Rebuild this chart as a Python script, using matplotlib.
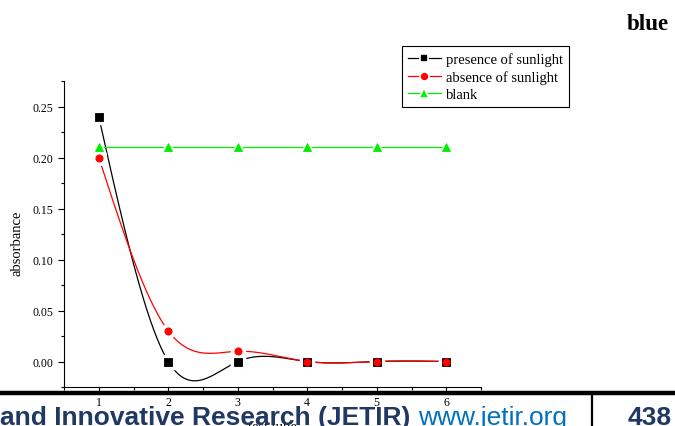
import numpy as np
import matplotlib
matplotlib.use('Agg')
import matplotlib.pyplot as plt
from matplotlib.lines import Line2D

# values
tubes = [1, 2, 3, 4, 5, 6]
presence = [0.24, 0.0, 0.0, 0.0, 0.0, 0.0]
absence = [0.20, 0.03, 0.01, 0.0, 0.0, 0.0]
blank = [0.21, 0.21, 0.21, 0.21, 0.21, 0.21]
series_labels = ['presence of sunlight', 'absence of sunlight', 'blank']

BLACK = '#000000'
RED = '#ff0000'
GREEN = '#00ee00'
NAVY = '#1f3864'
WEB_BLUE = '#0070c0'

plt.rcParams['font.family'] = ['Liberation Serif', 'DejaVu Serif']


def natural_spline(x, y, n=400):
    # natural cubic spline through the points, like Origin's spline connector
    x = np.asarray(x, float)
    y = np.asarray(y, float)
    k = len(x)
    h = np.diff(x)
    A = np.zeros((k, k))
    b = np.zeros(k)
    A[0, 0] = A[-1, -1] = 1.0
    for i in range(1, k - 1):
        A[i, i - 1] = h[i - 1]
        A[i, i] = 2 * (h[i - 1] + h[i])
        A[i, i + 1] = h[i]
        b[i] = 6 * ((y[i + 1] - y[i]) / h[i] - (y[i] - y[i - 1]) / h[i - 1])
    M = np.linalg.solve(A, b)
    xs = np.linspace(x[0], x[-1], n)
    idx = np.clip(np.searchsorted(x, xs) - 1, 0, k - 2)
    x0, x1 = x[idx], x[idx + 1]
    hh = x1 - x0
    t0, t1 = x1 - xs, xs - x0
    ys = (M[idx] * t0 ** 3 + M[idx + 1] * t1 ** 3) / (6 * hh) \
        + (y[idx] / hh - M[idx] * hh / 6) * t0 \
        + (y[idx + 1] / hh - M[idx + 1] * hh / 6) * t1
    return xs, ys


fig = plt.figure(figsize=(6.75, 4.27), dpi=100)
ax = fig.add_axes([64 / 675, 1 - 388 / 427, (481 - 64) / 675, (388 - 82) / 427])

sx, sy = natural_spline(tubes, presence)
ax.plot(sx, sy, color=BLACK, lw=0.9, zorder=2)
sx, sy = natural_spline(tubes, absence)
ax.plot(sx, sy, color=RED, lw=0.9, zorder=2)
ax.plot(tubes, blank, color=GREEN, lw=0.9, zorder=2)

# white halo under the symbols gives the gaps Origin leaves round them
for vals, mk, col in [(presence, 's', BLACK), (absence, 'o', RED), (blank, '^', GREEN)]:
    ax.plot(tubes, vals, ls='none', marker=mk, ms=10, color='white', zorder=3)
    ax.plot(tubes, vals, ls='none', marker=mk, ms=5.2, color=col, mec=col,
            mew=0.6, zorder=4)

ax.set_xlim(0.5, 6.5)
ax.set_ylim(-0.025, 0.275)
ax.set_xticks(tubes)
ax.set_xticks(np.arange(0.5, 6.6, 0.5), minor=True)
ax.set_yticks(np.arange(0, 0.26, 0.05))
ax.set_yticks(np.arange(-0.025, 0.276, 0.025), minor=True)
ax.set_yticklabels(['%.2f' % v for v in np.arange(0, 0.26, 0.05)])
ax.tick_params(which='major', direction='out', length=4.3, width=0.8, labelsize=8.5, pad=3.5)
ax.tick_params(which='minor', direction='out', length=2.3, width=0.8)
ax.tick_params(axis='x', pad=2)
for s in ['top', 'right']:
    ax.spines[s].set_visible(False)
ax.set_ylabel('absorbance', fontsize=10.5)
ax.yaxis.set_label_coords(-0.098, 0.472)
ax.set_xlabel('test tube', fontsize=10.5)
ax.xaxis.set_label_coords(0.5, (388 - 421) / 306)

handles = [
    Line2D([], [], color=BLACK, lw=0.9, marker='s', ms=6, mfc=BLACK, mec='white', mew=1.2),
    Line2D([], [], color=RED, lw=0.9, marker='o', ms=6.5, mfc=RED, mec='white', mew=1.2),
    Line2D([], [], color=GREEN, lw=0.9, marker='^', ms=7, mfc=GREEN, mec='white', mew=1.2),
]
leg = fig.legend(handles, series_labels, loc='upper left',
                 bbox_to_anchor=(402 / 675, 1 - 47 / 427), fontsize=10.5,
                 frameon=True, fancybox=False, edgecolor='black', framealpha=1,
                 handlelength=2.25, handletextpad=0.35, labelspacing=0.3,
                 borderpad=0.4, borderaxespad=0)
leg.get_frame().set_linewidth(0.8)

fig.text(627 / 675, 1 - 30 / 427, 'blue', fontsize=16.5, fontweight='bold', va='baseline')

# journal footer strip that covers the bottom of the chart
fig.add_artist(Line2D([0, 1], [1 - 394 / 427] * 2, color='black', lw=3.2,
                      transform=fig.transFigure))
fig.add_artist(Line2D([592 / 675] * 2, [1 - 394 / 427, 0], color='black', lw=1.6,
                      transform=fig.transFigure))
base_y = 1 - 425 / 427
t1 = fig.text(0, base_y, 'and Innovative Research (JETIR) ',
              fontsize=19, fontweight='bold', color=NAVY, va='baseline',
              family='Liberation Sans')
fig.canvas.draw()
bb = t1.get_window_extent().transformed(fig.transFigure.inverted())
fig.text(bb.x1, base_y, 'www.jetir.org', fontsize=19, color=WEB_BLUE,
         va='baseline', family='Liberation Sans')
fig.text(628 / 675, base_y, '438', fontsize=19, fontweight='bold', color=NAVY,
         va='baseline', family='Liberation Sans')

fig.savefig('out.png', dpi=100)
